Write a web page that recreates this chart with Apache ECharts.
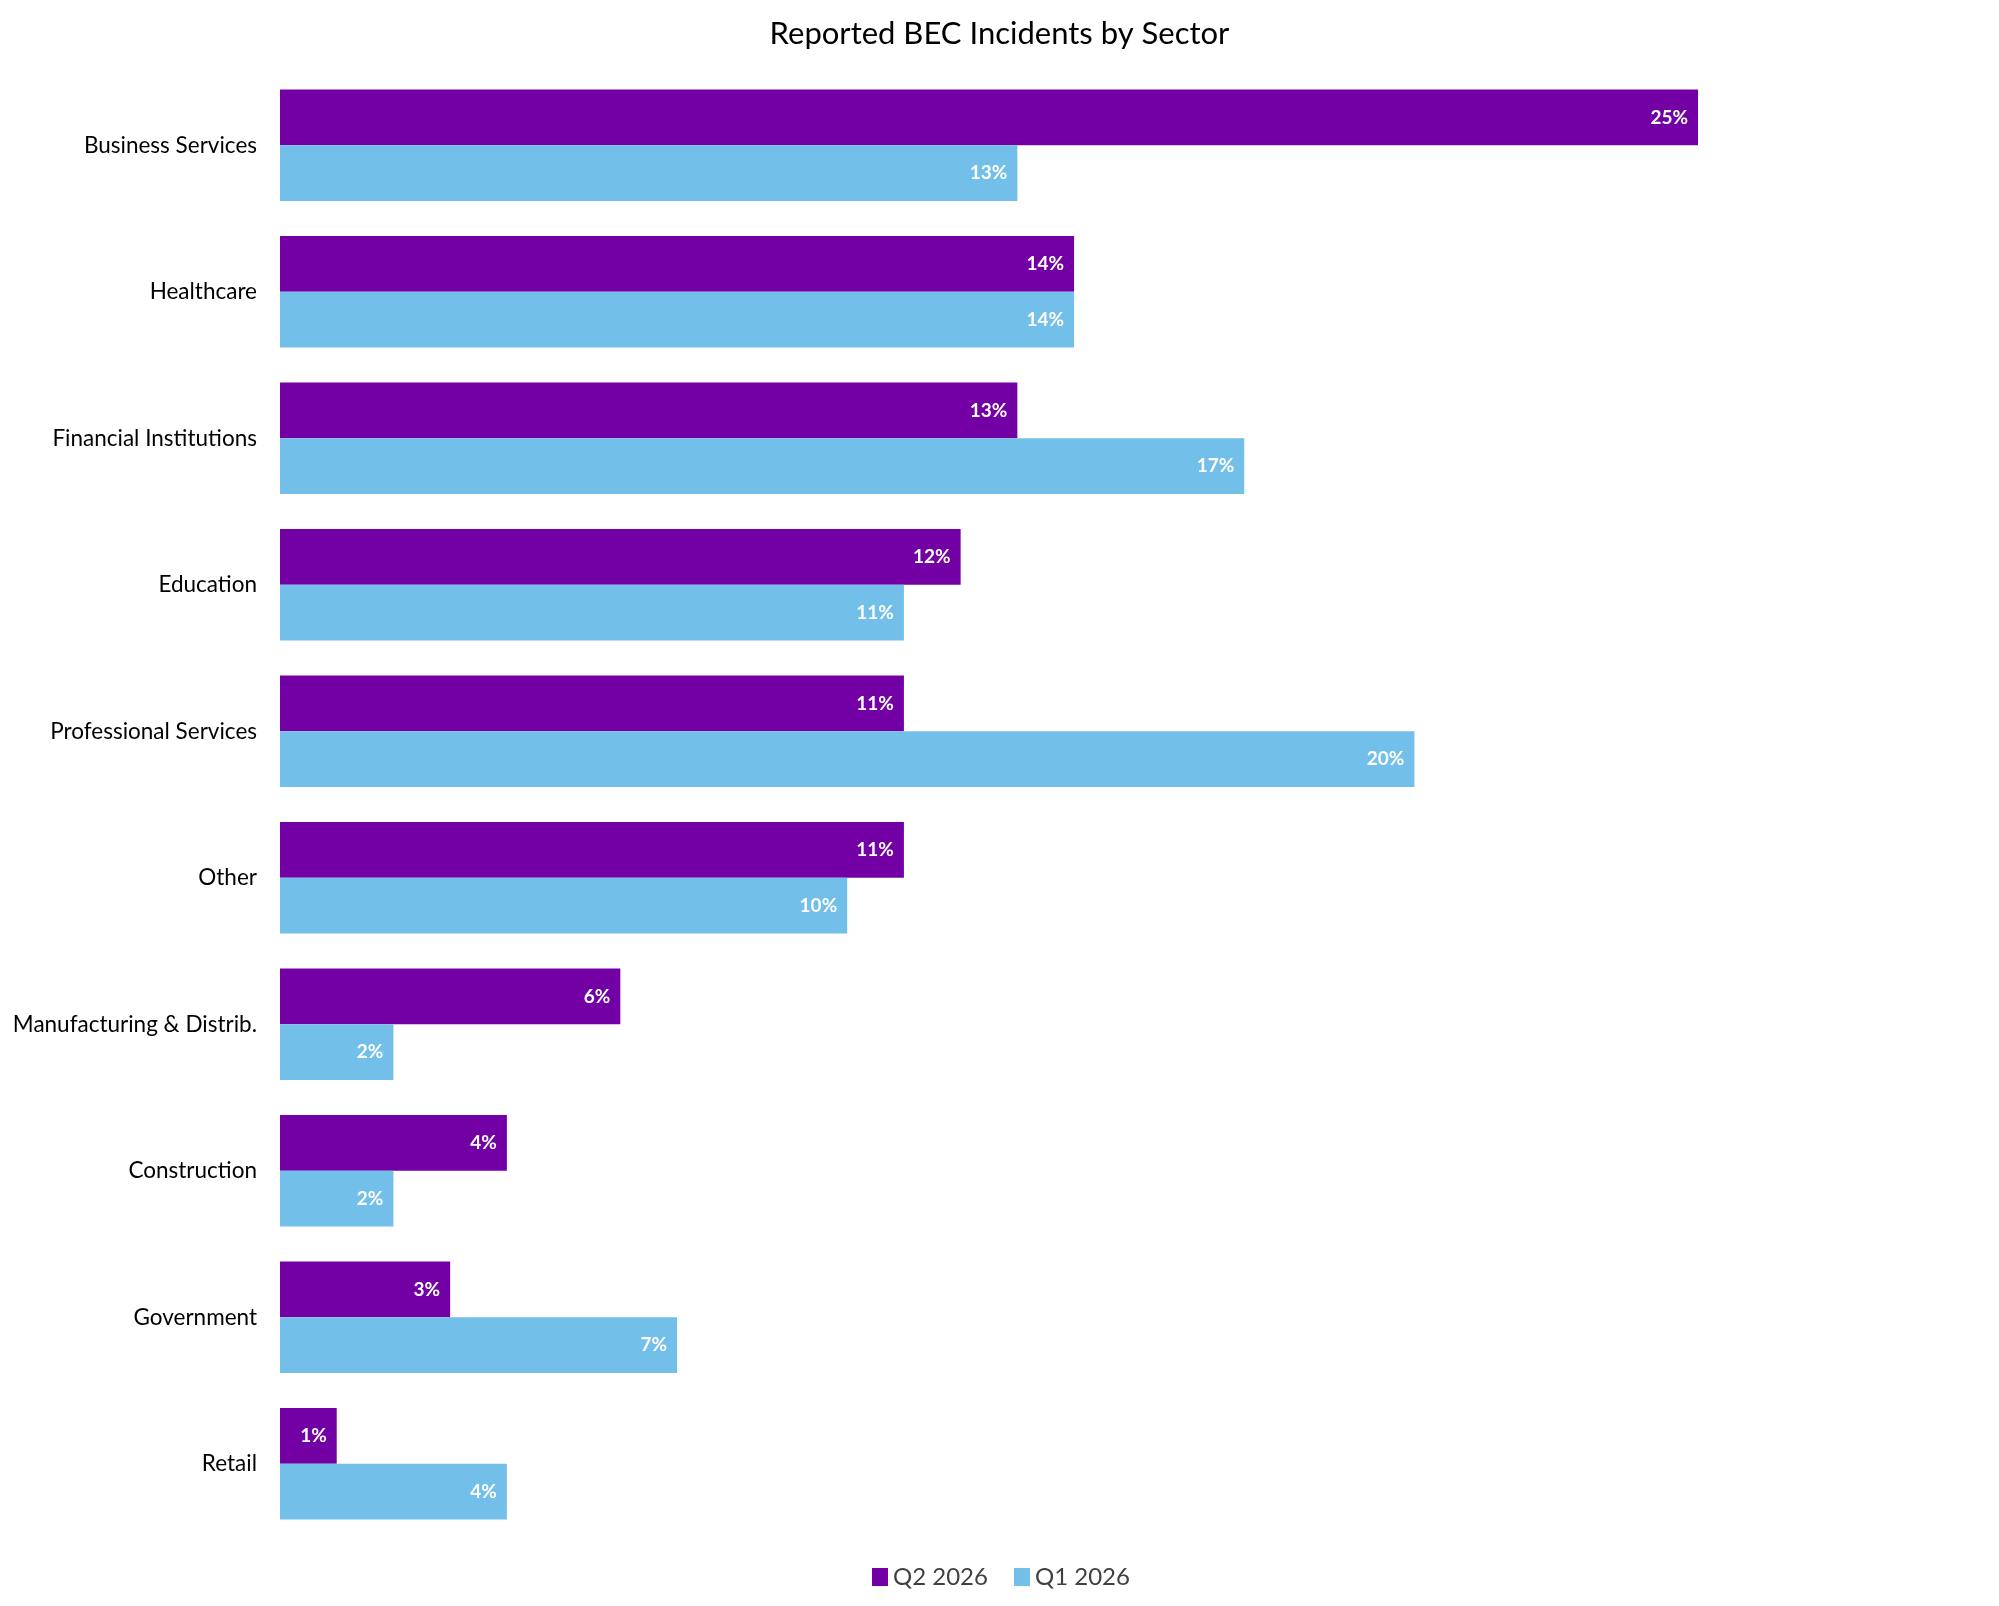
<!DOCTYPE html>
<html>
<head>
<meta charset="utf-8">
<title>Reported BEC Incidents by Sector</title>
<script src="https://cdn.jsdelivr.net/npm/echarts@6/dist/echarts.min.js"></script>
<style>
  html, body { margin: 0; padding: 0; background: #fff; }
  #chart { width: 1999px; height: 1606px; }
</style>
</head>
<body>
<div id="chart"></div>
<script>
// sectors, top to bottom
var sectors = ['Business Services', 'Healthcare', 'Financial Institutions', 'Education',
    'Professional Services', 'Other', 'Manufacturing & Distrib.', 'Construction',
    'Government', 'Retail'];
// share of incidents, percent
var q2_2026 = [25, 14, 13, 12, 11, 11, 6, 4, 3, 1];
var q1_2026 = [13, 14, 17, 11, 20, 10, 2, 2, 7, 4];
var seriesNames = ['Q2 2026', 'Q1 2026'];

var FONT = 'Lato, "Noto Sans", sans-serif';

var chart = echarts.init(document.getElementById('chart'));

var barLabel = {
    show: true,
    position: 'insideRight',
    distance: 10,
    color: '#fff',
    fontFamily: FONT,
    fontSize: 19,
    fontWeight: 'bold',
    formatter: '{c}%'
};

var option = {
    backgroundColor: '#fff',
    animation: false,
    title: {
        text: 'Reported BEC Incidents by Sector',
        left: 'center',
        top: 13,
        textStyle: {fontFamily: FONT, fontSize: 31, fontWeight: 'normal', color: '#000'}
    },
    legend: {
        data: seriesNames,
        left: 867,
        top: 1560,
        itemWidth: 16,
        itemHeight: 18,
        itemGap: 26,
        icon: 'rect',
        textStyle: {fontFamily: FONT, fontSize: 24, color: '#404040'}
    },
    grid: {left: 280, right: 301, top: 72, bottom: 69, containLabel: false},
    xAxis: {
        type: 'value',
        min: 0,
        max: 25,
        show: false,
        splitLine: {show: false}
    },
    yAxis: {
        type: 'category',
        data: sectors,
        inverse: true,
        axisLine: {show: false},
        axisTick: {show: false},
        axisLabel: {margin: 23, color: '#000', fontFamily: FONT, fontSize: 22.5}
    },
    series: [
        {
            name: seriesNames[0],
            type: 'bar',
            data: q2_2026,
            barGap: 0,
            barCategoryGap: '24%',
            itemStyle: {color: '#7200a5'},
            label: barLabel
        },
        {
            name: seriesNames[1],
            type: 'bar',
            data: q1_2026,
            barGap: 0,
            barCategoryGap: '24%',
            itemStyle: {color: '#72bfe9'},
            label: barLabel
        }
    ]
};

chart.setOption(option);
window.onresize = chart.resize;
</script>
</body>
</html>
